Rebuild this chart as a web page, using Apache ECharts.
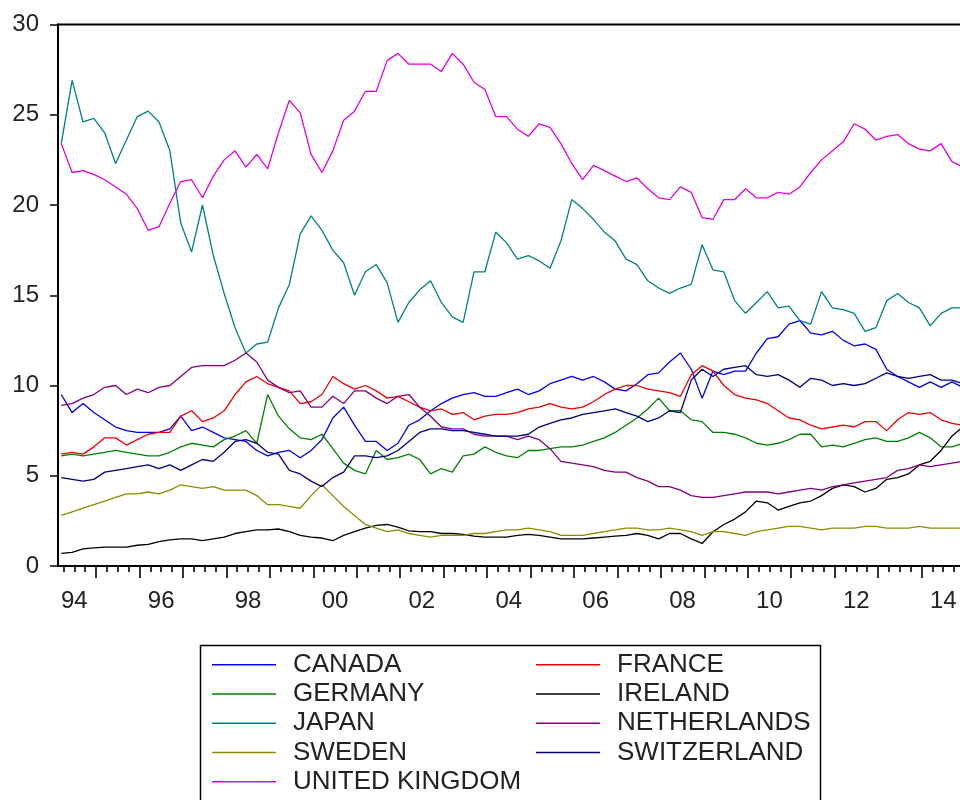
<!DOCTYPE html>
<html>
<head>
<meta charset="utf-8">
<script src="https://cdn.jsdelivr.net/npm/echarts@6/dist/echarts.min.js"></script>
<style>
html,body{margin:0;padding:0;background:#fff;overflow:hidden;}
#chart{width:980px;height:830px;}
</style>
</head>
<body>
<div id="chart"></div>
<script>
const startPeriod = 1994.2, periodStep = 0.25, periodCount = 84;
const periods = [];
for (let i = 0; i < periodCount; i++) periods.push(+(startPeriod + i * periodStep).toFixed(3));

const seriesNames = ['CANADA','FRANCE','GERMANY','IRELAND','JAPAN','NETHERLANDS','SWEDEN','SWITZERLAND','UNITED KINGDOM'];

const canada = [9.5,8.5,9.0,8.5,8.1,7.7,7.5,7.4,7.4,7.4,7.6,8.3,7.5,7.7,7.4,7.1,7.0,6.9,6.4,6.1,6.3,6.4,6.0,6.4,7.0,8.2,8.8,7.8,6.9,6.9,6.4,6.8,7.8,8.1,8.6,9.0,9.3,9.5,9.6,9.4,9.4,9.6,9.8,9.5,9.7,10.1,10.3,10.5,10.3,10.5,10.2,9.8,9.7,10.1,10.6,10.7,11.3,11.8,10.9,9.3,10.8,10.6,10.8,10.8,11.8,12.6,12.7,13.4,13.6,12.9,12.8,13.0,12.5,12.2,12.3,12.0,10.9,10.5,10.2,9.9,10.2,9.9,10.2,9.9];
const france = [6.2,6.3,6.2,6.6,7.1,7.1,6.7,7.0,7.3,7.4,7.4,8.3,8.6,8.0,8.2,8.6,9.5,10.2,10.5,10.1,9.9,9.7,9.0,9.1,9.5,10.5,10.1,9.8,10.0,9.7,9.3,9.4,9.1,8.8,8.6,8.7,8.4,8.5,8.1,8.3,8.4,8.4,8.5,8.7,8.8,9.0,8.8,8.7,8.8,9.1,9.5,9.8,10.0,10.0,9.8,9.7,9.6,9.4,10.6,11.1,10.8,10.0,9.5,9.3,9.2,9.0,8.6,8.2,8.1,7.8,7.6,7.7,7.8,7.7,8.0,8.0,7.5,8.1,8.5,8.4,8.5,8.1,7.9,7.8];
const germany = [6.1,6.2,6.1,6.2,6.3,6.4,6.3,6.2,6.1,6.1,6.3,6.6,6.8,6.7,6.6,7.0,7.2,7.5,6.8,9.5,8.3,7.6,7.1,7.0,7.3,6.5,5.7,5.3,5.1,6.4,5.9,6.0,6.2,5.9,5.1,5.4,5.2,6.1,6.2,6.6,6.3,6.1,6.0,6.4,6.4,6.5,6.6,6.6,6.7,6.9,7.1,7.4,7.8,8.2,8.7,9.3,8.6,8.6,8.1,8.0,7.4,7.4,7.3,7.1,6.8,6.7,6.8,7.0,7.3,7.3,6.6,6.7,6.6,6.8,7.0,7.1,6.9,6.9,7.1,7.4,7.1,6.6,6.6,6.8];
const ireland = [0.7,0.75,0.95,1.0,1.05,1.05,1.05,1.15,1.2,1.35,1.45,1.5,1.5,1.4,1.5,1.6,1.8,1.9,2.0,2.0,2.05,1.9,1.7,1.6,1.55,1.4,1.7,1.9,2.1,2.25,2.3,2.15,1.95,1.9,1.9,1.8,1.8,1.75,1.65,1.6,1.6,1.6,1.7,1.75,1.7,1.6,1.5,1.5,1.5,1.55,1.6,1.65,1.7,1.8,1.7,1.5,1.8,1.8,1.5,1.25,1.9,2.3,2.6,3.0,3.6,3.5,3.1,3.3,3.5,3.6,3.9,4.3,4.5,4.4,4.1,4.3,4.8,4.9,5.1,5.6,5.8,6.4,7.2,7.7];
const japan = [23.4,26.9,24.6,24.8,24.0,22.3,23.6,24.9,25.2,24.6,23.0,19.0,17.4,20.0,17.2,15.1,13.2,11.8,12.3,12.4,14.3,15.6,18.4,19.4,18.6,17.5,16.8,15.0,16.3,16.7,15.7,13.5,14.6,15.3,15.8,14.6,13.8,13.5,16.3,16.3,18.5,17.9,17.0,17.2,16.9,16.5,18.0,20.3,19.8,19.2,18.5,18.0,17.0,16.7,15.8,15.4,15.1,15.4,15.6,17.8,16.4,16.3,14.7,14.0,14.6,15.2,14.3,14.4,13.6,13.4,15.2,14.3,14.2,14.0,13.0,13.2,14.7,15.1,14.6,14.3,13.3,14.0,14.3,14.3];
const netherlands = [8.9,9.0,9.3,9.5,9.9,10.0,9.5,9.8,9.6,9.9,10.0,10.5,11.0,11.1,11.1,11.1,11.4,11.8,11.3,10.3,9.9,9.6,9.7,8.8,8.8,9.4,9.0,9.7,9.7,9.3,9.0,9.4,9.5,8.8,8.3,7.7,7.6,7.6,7.3,7.2,7.2,7.2,7.0,7.2,7.0,6.5,5.8,5.7,5.6,5.5,5.3,5.2,5.2,4.9,4.7,4.4,4.4,4.2,3.9,3.8,3.8,3.9,4.0,4.1,4.1,4.1,4.0,4.1,4.2,4.3,4.2,4.4,4.5,4.6,4.7,4.8,4.9,5.3,5.4,5.6,5.5,5.6,5.7,5.8];
const sweden = [2.8,3.0,3.2,3.4,3.6,3.8,4.0,4.0,4.1,4.0,4.2,4.5,4.4,4.3,4.4,4.2,4.2,4.2,3.9,3.4,3.4,3.3,3.2,3.9,4.5,3.9,3.3,2.8,2.3,2.1,1.9,2.0,1.8,1.7,1.6,1.7,1.7,1.7,1.8,1.8,1.9,2.0,2.0,2.1,2.0,1.9,1.7,1.7,1.7,1.8,1.9,2.0,2.1,2.1,2.0,2.0,2.1,2.0,1.9,1.7,1.9,1.9,1.8,1.7,1.9,2.0,2.1,2.2,2.2,2.1,2.0,2.1,2.1,2.1,2.2,2.2,2.1,2.1,2.1,2.2,2.1,2.1,2.1,2.1];
const switzerland = [4.9,4.8,4.7,4.8,5.2,5.3,5.4,5.5,5.6,5.4,5.6,5.3,5.6,5.9,5.8,6.3,6.9,7.0,6.8,6.3,6.2,5.3,5.1,4.7,4.4,4.9,5.2,6.1,6.1,6.0,6.1,6.4,6.9,7.4,7.6,7.6,7.5,7.5,7.4,7.3,7.2,7.2,7.2,7.3,7.7,7.9,8.1,8.2,8.4,8.5,8.6,8.7,8.5,8.3,8.0,8.2,8.6,8.5,10.3,10.9,10.5,10.9,11.0,11.1,10.6,10.5,10.6,10.3,9.9,10.4,10.3,10.0,10.1,10.0,10.1,10.4,10.7,10.5,10.4,10.5,10.6,10.3,10.3,10.1];
const unitedKingdom = [23.4,21.8,21.9,21.7,21.4,21.0,20.6,19.8,18.6,18.8,20.1,21.3,21.4,20.4,21.6,22.5,23.0,22.1,22.8,22.0,24.0,25.8,25.1,22.8,21.8,23.0,24.7,25.2,26.3,26.3,28.0,28.4,27.8,27.8,27.8,27.4,28.4,27.8,26.8,26.4,24.9,24.9,24.2,23.8,24.5,24.3,23.4,22.3,21.4,22.2,21.9,21.6,21.3,21.5,20.9,20.4,20.3,21.0,20.7,19.3,19.2,20.3,20.3,20.9,20.4,20.4,20.7,20.6,21.0,21.8,22.5,23.0,23.5,24.5,24.2,23.6,23.8,23.9,23.4,23.1,23.0,23.4,22.4,22.1];

const seriesValues = [canada, france, germany, ireland, japan, netherlands, sweden, switzerland, unitedKingdom];
const seriesColors = ['#0000ee','#ee0000','#008000','#000000','#008080','#800080','#8c8c00','#000080','#e000e0'];

const yearTicks = [1995,1996,1997,1998,1999,2000,2001,2002,2003,2004,2005,2006,2007,2008,2009,2010,2011,2012,2013,2014,2015];
const quarterTicks = [];
for (let y = 1994; y <= 2014; y++) { quarterTicks.push(y + 0.25, y + 0.5, y + 0.75); }
const yearLabels = [1994.5,1996.5,1998.5,2000.5,2002.5,2004.5,2006.5,2008.5,2010.5,2012.5,2014.5];

const font = "'Liberation Sans', Arial, sans-serif";
const chart = echarts.init(document.getElementById('chart'), null, {renderer: 'canvas'});
const xMin = 1994.125, xMax = 2015.07;

chart.setOption({
  animation: false,
  backgroundColor: '#fff',
  grid: {
    left: 58, top: 24.5, width: 910, height: 541.5,
    show: true, borderColor: '#000', borderWidth: 2, backgroundColor: 'transparent',
    containLabel: false
  },
  xAxis: [
    {
      type: 'value', min: xMin, max: xMax, position: 'bottom',
      axisLine: {show: true, lineStyle: {color: '#000', width: 2}},
      axisTick: {show: true, customValues: yearTicks, length: 12, lineStyle: {color: '#000', width: 1.6}},
      axisLabel: {
        show: true, customValues: yearLabels, margin: 23,
        fontSize: 24, fontFamily: font, color: '#222',
        formatter: v => String(Math.floor(v) % 100).padStart(2, '0')
      },
      splitLine: {show: false}
    },
    {
      type: 'value', min: xMin, max: xMax, position: 'bottom',
      axisLine: {show: false},
      axisTick: {show: true, customValues: quarterTicks, length: 6, lineStyle: {color: '#000', width: 1.6}},
      axisLabel: {show: false},
      splitLine: {show: false}
    }
  ],
  yAxis: {
    type: 'value', min: 0, max: 30, interval: 5,
    axisLine: {show: true, lineStyle: {color: '#000', width: 2}},
    axisTick: {show: true, length: 8, lineStyle: {color: '#000', width: 1.5}},
    axisLabel: {fontSize: 24, fontFamily: font, color: '#222', margin: 19},
    splitLine: {show: false}
  },
  legend: {
    data: seriesNames,
    orient: 'horizontal',
    left: 212, top: 650, width: 660,
    itemGap: 0, itemWidth: 64, itemHeight: 12,
    padding: 0,
    icon: 'path://M0,5 L64,5 L64,6.5 L0,6.5 Z',
    textStyle: {fontSize: 26, fontFamily: font, color: '#222', width: 243, lineHeight: 29.3, padding: [0, 0, 0, 12]},
    selectedMode: false
  },
  graphic: [{
    type: 'rect', left: 198, top: 643, silent: true,
    shape: {width: 620, height: 200},
    style: {fill: 'none', stroke: '#000', lineWidth: 1.5}
  }],
  series: seriesNames.map((name, i) => ({
    name: name,
    type: 'line',
    xAxisIndex: 0,
    symbol: 'none',
    showSymbol: false,
    color: seriesColors[i],
    itemStyle: {color: seriesColors[i]},
    lineStyle: {color: seriesColors[i], width: 1.3},
    data: periods.map((t, k) => [t, seriesValues[i][k]])
  }))
});
</script>
</body>
</html>
